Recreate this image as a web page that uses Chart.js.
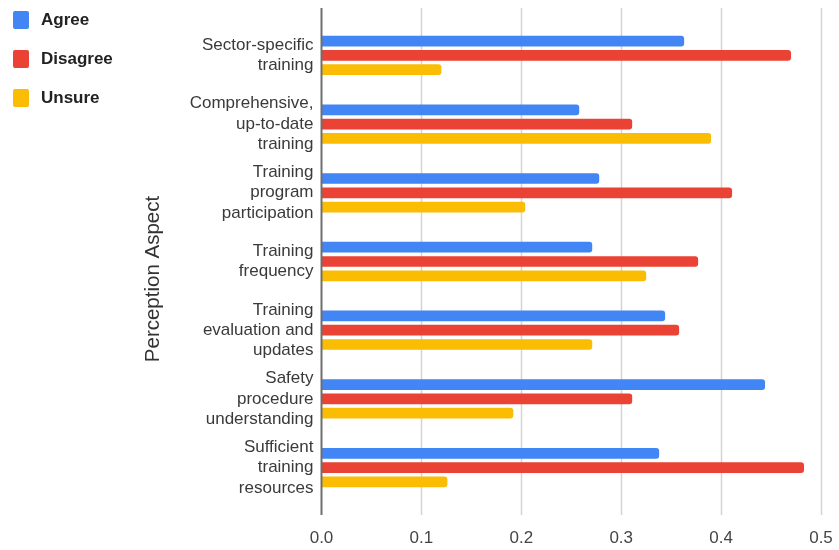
<!DOCTYPE html>
<html>
<head>
<meta charset="utf-8">
<title>Perception of training</title>
<script src="https://cdn.jsdelivr.net/npm/chart.js@4.4.1/dist/chart.umd.min.js"></script>
<style>
  html, body { margin: 0; padding: 0; background: #ffffff; }
  #wrap { width: 839px; height: 550px; position: relative; }
</style>
</head>
<body>
<div id="wrap"><canvas id="chart"></canvas></div>
<script>
// Perception aspects (multi-line category labels)
const categories = [
  ['Sector-specific', 'training'],
  ['Comprehensive,', 'up-to-date', 'training'],
  ['Training', 'program', 'participation'],
  ['Training', 'frequency'],
  ['Training', 'evaluation and', 'updates'],
  ['Safety', 'procedure', 'understanding'],
  ['Sufficient', 'training', 'resources']
];

// Share of respondents per answer
const agree    = [0.363, 0.258, 0.278, 0.271, 0.344, 0.444, 0.338];
const disagree = [0.470, 0.311, 0.411, 0.377, 0.358, 0.311, 0.483];
const unsure   = [0.120, 0.390, 0.204, 0.325, 0.271, 0.192, 0.126];

const seriesNames = ['Agree', 'Disagree', 'Unsure'];
const seriesColors = ['#4285F4', '#EA4335', '#FBBC04'];

const axisTitle = 'Perception Aspect';
const xTicks = [0, 0.1, 0.2, 0.3, 0.4, 0.5];

const FONT = "'Liberation Sans', Arial, sans-serif";

// Vertical grid lines spanning slightly beyond the plot area, plus the zero axis line
const gridPlugin = {
  id: 'gridLines',
  beforeDatasetsDraw(chart) {
    const { ctx, scales: { x } } = chart;
    ctx.save();
    ctx.strokeStyle = '#d4d4d4';
    ctx.lineWidth = 1.5;
    xTicks.forEach(v => {
      if (v === 0) return;
      const px = Math.round(x.getPixelForValue(v)) + 0.5;
      ctx.beginPath();
      ctx.moveTo(px, 8);
      ctx.lineTo(px, 515);
      ctx.stroke();
    });
    ctx.restore();
  },
  afterDatasetsDraw(chart) {
    const { ctx, scales: { x } } = chart;
    const px = x.getPixelForValue(0);
    ctx.save();
    ctx.strokeStyle = '#6e6e6e';
    ctx.lineWidth = 2;
    ctx.beginPath();
    ctx.moveTo(px, 8);
    ctx.lineTo(px, 515);
    ctx.stroke();
    ctx.restore();
  }
};

// Legend column at top-left and rotated category-axis title
const sidePlugin = {
  id: 'sideDecor',
  afterDraw(chart) {
    const { ctx } = chart;
    ctx.save();
    chart.data.datasets.forEach((ds, i) => {
      const cy = 20 + i * 39;
      ctx.fillStyle = ds.backgroundColor;
      ctx.beginPath();
      ctx.roundRect(13, cy - 9, 16, 18, 2);
      ctx.fill();
      ctx.fillStyle = '#222222';
      ctx.font = 'bold 17px ' + FONT;
      ctx.textAlign = 'left';
      ctx.textBaseline = 'middle';
      ctx.fillText(ds.label, 41, cy);
    });
    ctx.translate(153, 279);
    ctx.rotate(-Math.PI / 2);
    ctx.fillStyle = '#333333';
    ctx.font = '20.5px ' + FONT;
    ctx.textAlign = 'center';
    ctx.textBaseline = 'middle';
    ctx.fillText(axisTitle, 0, 0);
    ctx.restore();
  }
};

const seriesData = [agree, disagree, unsure];

new Chart(document.getElementById('chart'), {
  type: 'bar',
  data: {
    labels: categories,
    datasets: seriesNames.map((name, i) => ({
      label: name,
      data: seriesData[i],
      backgroundColor: seriesColors[i],
      borderRadius: 3,
      borderSkipped: 'start',
      categoryPercentage: 0.624,
      barPercentage: 0.75
    }))
  },
  options: {
    indexAxis: 'y',
    responsive: true,
    maintainAspectRatio: false,
    animation: false,
    layout: { padding: { top: 21, right: 18, left: 0, bottom: 0 } },
    plugins: {
      legend: { display: false },
      tooltip: { enabled: false }
    },
    scales: {
      x: {
        type: 'linear',
        min: 0,
        max: 0.5,
        afterBuildTicks(scale) {
          scale.ticks = xTicks.map(v => ({ value: v }));
        },
        afterFit(scale) {
          scale.height = 48;
          scale.paddingLeft = 0;
          scale.paddingRight = 0;
        },
        grid: { display: false },
        border: { display: false },
        ticks: {
          padding: 18,
          color: '#444444',
          font: { family: FONT, size: 17 },
          callback: v => Number(v).toFixed(1)
        }
      },
      y: {
        afterFit(scale) {
          scale.width = 321.5;
          scale.paddingTop = 0;
          scale.paddingBottom = 0;
        },
        grid: { display: false, drawTicks: false },
        border: { display: false },
        ticks: {
          autoSkip: false,
          padding: 8,
          color: '#3a3a3a',
          font: { family: FONT, size: 17, lineHeight: 1.2 }
        }
      }
    }
  },
  plugins: [gridPlugin, sidePlugin]
});
</script>
</body>
</html>
